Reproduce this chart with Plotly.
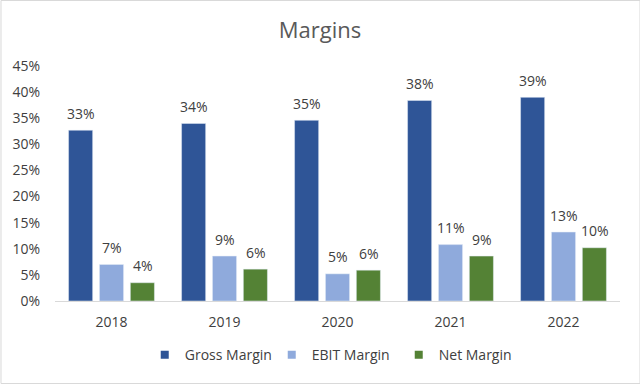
import plotly.graph_objects as go

years = ["2018", "2019", "2020", "2021", "2022"]
gross_margin = [0.327, 0.340, 0.346, 0.384, 0.390]
ebit_margin = [0.070, 0.086, 0.052, 0.108, 0.132]
net_margin = [0.035, 0.061, 0.059, 0.086, 0.102]
y_ticks = [0, 0.05, 0.10, 0.15, 0.20, 0.25, 0.30, 0.35, 0.40, 0.45]

FONT = "Open Sans"
TXT = "#404040"
series = [("Gross Margin", gross_margin, "#2F5597", -31),
          ("EBIT Margin", ebit_margin, "#8FAADC", 0),
          ("Net Margin", net_margin, "#548235", 31)]

fig = go.Figure()
annotations = []
for name, vals, col, dx in series:
    fig.add_trace(go.Bar(x=years, y=vals, name=name, marker_color=col,
                         showlegend=False, hoverinfo="x+y"))
    for i, v in enumerate(vals):
        # category index i on the categorical x axis
        annotations.append(dict(x=i, y=v, xref="x", yref="y",
                                text=f"{v*100:.0f}%", showarrow=False,
                                xshift=dx, yshift=17, yanchor="middle",
                                font=dict(family=FONT, size=14, color=TXT)))
for name, vals, col, dx in series:
    # legend-only square marker
    fig.add_trace(go.Scatter(x=[years[0]], y=[None], mode="markers", name=name,
                             marker=dict(symbol="square", size=8, color=col),
                             hoverinfo="skip"))

fig.update_layout(
    width=640, height=384,
    margin=dict(l=55, r=20, t=66, b=83),
    paper_bgcolor="white", plot_bgcolor="white",
    barmode="group", bargap=0.18, bargroupgap=0.22,
    title=dict(text="Margins", x=0.5, xanchor="center", y=0.92, yanchor="middle",
               font=dict(family=FONT, size=22, color="#595959")),
    font=dict(family=FONT, size=14, color=TXT),
    showlegend=True,
    legend=dict(orientation="h", x=0.496, xanchor="center", y=-0.23, yanchor="middle",
                font=dict(family=FONT, size=14, color=TXT), itemwidth=30,
                entrywidth=82, entrywidthmode="pixels",
                traceorder="normal"),
    xaxis=dict(type="category", categoryorder="array", categoryarray=years,
               range=[-0.5, len(years) - 0.5],
               showline=True, linecolor="#D9D9D9", linewidth=1, ticks="",
               ticklabelstandoff=8,
               tickfont=dict(family=FONT, size=14, color=TXT)),
    yaxis=dict(range=[0, 0.45], tickvals=y_ticks, tickformat=".0%",
               showgrid=False, zeroline=False, showline=False, ticks="",
               ticklabelstandoff=14,
               tickfont=dict(family=FONT, size=14, color=TXT)),
    annotations=annotations,
    shapes=[dict(type="rect", xref="paper", yref="paper",
                 x0=-0.0956, x1=1.0354, y0=-0.351, y1=1.2787,
                 line=dict(color="#D9D9D9", width=1), fillcolor="rgba(0,0,0,0)")],
)

fig.write_html("out.html", config={"displayModeBar": False},
               post_script="document.body.style.margin='0';document.body.style.padding='0';")
